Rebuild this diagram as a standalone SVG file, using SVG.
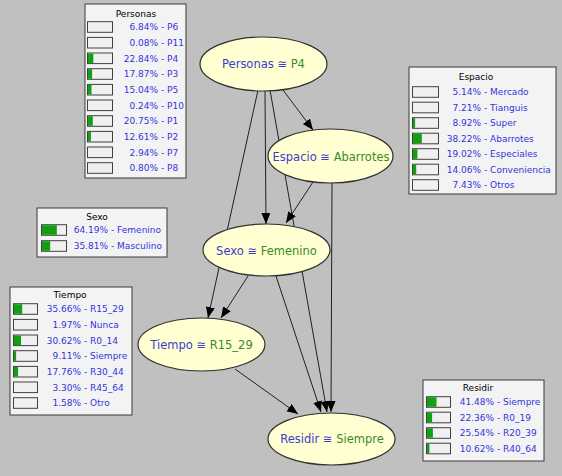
<svg xmlns="http://www.w3.org/2000/svg" width="562" height="476" viewBox="0 0 562 476">
<defs>
<marker id="ah" markerUnits="userSpaceOnUse" markerWidth="12" markerHeight="10" refX="11" refY="4.5" orient="auto">
<path d="M0,0 L11,4.5 L0,9 z" fill="#000"/>
</marker>
</defs>
<style>
.bg{fill:#c0c0c0}
.panel{fill:#f3f3f3;stroke:#3a3a3a;stroke-width:1}
.bar{fill:#f0f0f0;stroke:#404040;stroke-width:1}
.g{fill:#10a010}
.t{font-family:"DejaVu Sans",sans-serif;font-size:9px;fill:#000;text-anchor:middle}
.p{font-family:"DejaVu Sans",sans-serif;font-size:9px;fill:#3333e0;text-anchor:end}
.l{font-family:"DejaVu Sans",sans-serif;font-size:9px;fill:#3333e0}
.node{fill:#ffffd2;stroke:#303030;stroke-width:1.2}
.nt{font-family:"DejaVu Sans",sans-serif;font-size:11.5px;text-anchor:middle}
.nm{fill:#3c3cd0}
.st{fill:#3a8a2a}
.e{stroke:#202020;stroke-width:1;fill:none;marker-end:url(#ah)}
</style>
<rect class="bg" x="0" y="0" width="562" height="476"/>

<g id="connectors">
<line class="e" x1="283" y1="90" x2="313" y2="130"/>
<line class="e" x1="265" y1="91" x2="266" y2="224"/>
<line class="e" x1="258" y1="90" x2="208" y2="318"/>
<line class="e" x1="270" y1="90" x2="327" y2="412"/>
<line class="e" x1="313" y1="182" x2="286" y2="223"/>
<line class="e" x1="332" y1="183" x2="331" y2="412"/>
<line class="e" x1="248" y1="276" x2="221" y2="318"/>
<line class="e" x1="276" y1="276" x2="321" y2="412"/>
<line class="e" x1="235" y1="369" x2="298" y2="414"/>
</g>

<g id="node-personas">
<ellipse class="node" cx="263.5" cy="64" rx="63.5" ry="27"/>
<text class="nt" x="263.5" y="68"><tspan class="nm">Personas ≅ </tspan><tspan class="st">P4</tspan></text>
</g>
<g id="node-espacio">
<ellipse class="node" cx="330.5" cy="156" rx="62.5" ry="27"/>
<text class="nt" x="331" y="160.5"><tspan class="nm">Espacio ≅ </tspan><tspan class="st">Abarrotes</tspan></text>
</g>
<g id="node-sexo">
<ellipse class="node" cx="266.5" cy="250" rx="63.5" ry="26"/>
<text class="nt" x="266.5" y="254.5"><tspan class="nm">Sexo ≅ </tspan><tspan class="st">Femenino</tspan></text>
</g>
<g id="node-tiempo">
<ellipse class="node" cx="201.5" cy="344.5" rx="63.5" ry="26.5"/>
<text class="nt" x="201.5" y="349"><tspan class="nm">Tiempo ≅ </tspan><tspan class="st">R15_29</tspan></text>
</g>
<g id="node-residir">
<ellipse class="node" cx="331.5" cy="439" rx="63.5" ry="26"/>
<text class="nt" x="332" y="443"><tspan class="nm">Residir ≅ </tspan><tspan class="st">Siempre</tspan></text>
</g>

<g id="box-personas">
<rect class="panel" x="85" y="4" width="101" height="174"/>
<text class="t" x="136" y="17.3">Personas</text>
<rect class="bar" x="87.5" y="21.7" width="25" height="10.6"/>
<rect class="bar" x="87.5" y="37.4" width="25" height="10.6"/>
<rect class="bar" x="87.5" y="53" width="25" height="10.6"/><rect class="g" x="88" y="53.5" width="5.3" height="9.6"/>
<rect class="bar" x="87.5" y="68.7" width="25" height="10.6"/><rect class="g" x="88" y="69.2" width="4.1" height="9.6"/>
<rect class="bar" x="87.5" y="84.4" width="25" height="10.6"/><rect class="g" x="88" y="84.9" width="3.5" height="9.6"/>
<rect class="bar" x="87.5" y="100" width="25" height="10.6"/>
<rect class="bar" x="87.5" y="115.7" width="25" height="10.6"/><rect class="g" x="88" y="116.2" width="4.8" height="9.6"/>
<rect class="bar" x="87.5" y="131.4" width="25" height="10.6"/><rect class="g" x="88" y="131.9" width="2.9" height="9.6"/>
<rect class="bar" x="87.5" y="147" width="25" height="10.6"/>
<rect class="bar" x="87.5" y="162.7" width="25" height="10.6"/>
<text class="p" x="158" y="30.3">6.84%</text><text class="l" x="161" y="30.3">- P6</text>
<text class="p" x="158" y="46">0.08%</text><text class="l" x="161" y="46">- P11</text>
<text class="p" x="158" y="61.6">22.84%</text><text class="l" x="161" y="61.6">- P4</text>
<text class="p" x="158" y="77.3">17.87%</text><text class="l" x="161" y="77.3">- P3</text>
<text class="p" x="158" y="93">15.04%</text><text class="l" x="161" y="93">- P5</text>
<text class="p" x="158" y="108.6">0.24%</text><text class="l" x="161" y="108.6">- P10</text>
<text class="p" x="158" y="124.3">20.75%</text><text class="l" x="161" y="124.3">- P1</text>
<text class="p" x="158" y="140">12.61%</text><text class="l" x="161" y="140">- P2</text>
<text class="p" x="158" y="155.6">2.94%</text><text class="l" x="161" y="155.6">- P7</text>
<text class="p" x="158" y="171.3">0.80%</text><text class="l" x="161" y="171.3">- P8</text>
</g>

<g id="box-espacio">
<rect class="panel" x="409" y="67" width="147" height="127"/>
<text class="t" x="476" y="80.3">Espacio</text>
<rect class="bar" x="412.5" y="86.7" width="26" height="10.6"/>
<rect class="bar" x="412.5" y="102.2" width="26" height="10.6"/>
<rect class="bar" x="412.5" y="117.7" width="26" height="10.6"/><rect class="g" x="413" y="118.2" width="2.1" height="9.6"/>
<rect class="bar" x="412.5" y="133.2" width="26" height="10.6"/><rect class="g" x="413" y="133.7" width="8.8" height="9.6"/>
<rect class="bar" x="412.5" y="148.7" width="26" height="10.6"/><rect class="g" x="413" y="149.2" width="4.4" height="9.6"/>
<rect class="bar" x="412.5" y="164.2" width="26" height="10.6"/><rect class="g" x="413" y="164.7" width="3.2" height="9.6"/>
<rect class="bar" x="412.5" y="179.7" width="26" height="10.6"/>
<text class="p" x="481" y="95.3">5.14%</text><text class="l" x="484" y="95.3">- Mercado</text>
<text class="p" x="481" y="110.8">7.21%</text><text class="l" x="484" y="110.8">- Tianguis</text>
<text class="p" x="481" y="126.3">8.92%</text><text class="l" x="484" y="126.3">- Super</text>
<text class="p" x="481" y="141.8">38.22%</text><text class="l" x="484" y="141.8">- Abarrotes</text>
<text class="p" x="481" y="157.3">19.02%</text><text class="l" x="484" y="157.3">- Especiales</text>
<text class="p" x="481" y="172.8">14.06%</text><text class="l" x="484" y="172.8">- Conveniencia</text>
<text class="p" x="481" y="188.3">7.43%</text><text class="l" x="484" y="188.3">- Otros</text>
</g>

<g id="box-sexo">
<rect class="panel" x="37" y="208" width="130" height="49"/>
<text class="t" x="97" y="220.3">Sexo</text>
<rect class="bar" x="41.5" y="224.7" width="25" height="10.6"/><rect class="g" x="42" y="225.2" width="14.8" height="9.6"/>
<rect class="bar" x="41.5" y="240.7" width="25" height="10.6"/><rect class="g" x="42" y="241.2" width="8.2" height="9.6"/>
<text class="p" x="108" y="233.3">64.19%</text><text class="l" x="111" y="233.3">- Femenino</text>
<text class="p" x="108" y="249.3">35.81%</text><text class="l" x="111" y="249.3">- Masculino</text>
</g>

<g id="box-tiempo">
<rect class="panel" x="10" y="287" width="122" height="128"/>
<text class="t" x="70" y="298.3">Tiempo</text>
<rect class="bar" x="13.5" y="303.7" width="24" height="10.6"/><rect class="g" x="14" y="304.2" width="8.2" height="9.6"/>
<rect class="bar" x="13.5" y="319.4" width="24" height="10.6"/>
<rect class="bar" x="13.5" y="335" width="24" height="10.6"/><rect class="g" x="14" y="335.5" width="7" height="9.6"/>
<rect class="bar" x="13.5" y="350.7" width="24" height="10.6"/><rect class="g" x="14" y="351.2" width="2.1" height="9.6"/>
<rect class="bar" x="13.5" y="366.4" width="24" height="10.6"/><rect class="g" x="14" y="366.9" width="4.1" height="9.6"/>
<rect class="bar" x="13.5" y="382" width="24" height="10.6"/>
<rect class="bar" x="13.5" y="397.7" width="24" height="10.6"/>
<text class="p" x="81" y="312.3">35.66%</text><text class="l" x="84" y="312.3">- R15_29</text>
<text class="p" x="81" y="328">1.97%</text><text class="l" x="84" y="328">- Nunca</text>
<text class="p" x="81" y="343.6">30.62%</text><text class="l" x="84" y="343.6">- R0_14</text>
<text class="p" x="81" y="359.3">9.11%</text><text class="l" x="84" y="359.3">- Siempre</text>
<text class="p" x="81" y="375">17.76%</text><text class="l" x="84" y="375">- R30_44</text>
<text class="p" x="81" y="390.6">3.30%</text><text class="l" x="84" y="390.6">- R45_64</text>
<text class="p" x="81" y="406.3">1.58%</text><text class="l" x="84" y="406.3">- Otro</text>
</g>

<g id="box-residir">
<rect class="panel" x="423" y="380" width="121" height="81"/>
<text class="t" x="478" y="391.3">Residir</text>
<rect class="bar" x="426.5" y="396.7" width="24" height="10.6"/><rect class="g" x="427" y="397.2" width="9.5" height="9.6"/>
<rect class="bar" x="426.5" y="412.2" width="24" height="10.6"/><rect class="g" x="427" y="412.7" width="5.1" height="9.6"/>
<rect class="bar" x="426.5" y="427.7" width="24" height="10.6"/><rect class="g" x="427" y="428.2" width="5.9" height="9.6"/>
<rect class="bar" x="426.5" y="443.2" width="24" height="10.6"/><rect class="g" x="427" y="443.7" width="2.4" height="9.6"/>
<text class="p" x="494" y="405.3">41.48%</text><text class="l" x="497" y="405.3">- Siempre</text>
<text class="p" x="494" y="420.8">22.36%</text><text class="l" x="497" y="420.8">- R0_19</text>
<text class="p" x="494" y="436.3">25.54%</text><text class="l" x="497" y="436.3">- R20_39</text>
<text class="p" x="494" y="451.8">10.62%</text><text class="l" x="497" y="451.8">- R40_64</text>
</g>
</svg>
